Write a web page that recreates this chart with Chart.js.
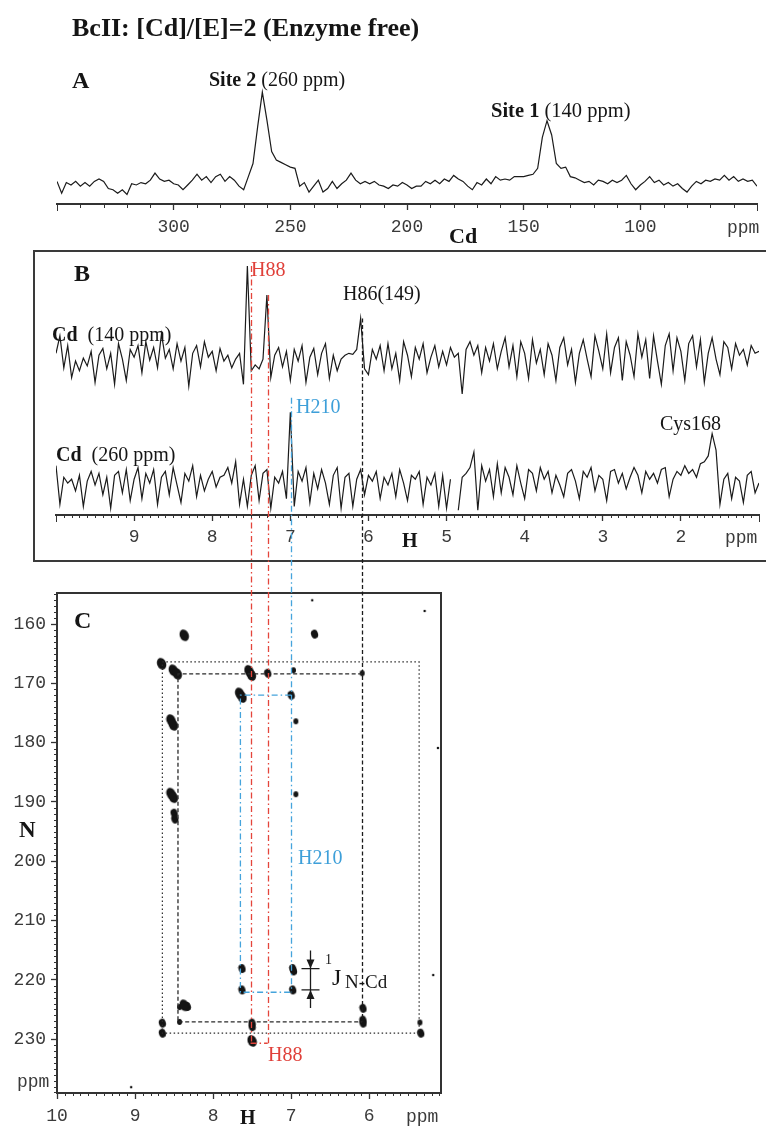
<!DOCTYPE html>
<html>
<head>
<meta charset="utf-8">
<title>BcII Cd NMR</title>
<script src="https://cdn.jsdelivr.net/npm/chart.js@4.4.1/dist/chart.umd.min.js"></script>
<style>
  html, body { margin: 0; padding: 0; background: #fff; }
  body { position: relative; width: 766px; height: 1126px; overflow: hidden; font-family: "Liberation Serif", "Times New Roman", serif; color: #151515; }
  canvas { position: absolute; left: 0; }
  .lbl { position: absolute; white-space: nowrap; line-height: 1; font-size: 20px; }
  .b { font-weight: bold; }
  .mono { font-family: "Liberation Mono", monospace; font-size: 18px; color: #3a3a3a; }
  .red { color: #e0403a; }
  .blue { color: #3d9fd9; }
  #boxB { position: absolute; left: 33px; top: 250px; width: 800px; height: 308px; border: 2px solid #3a3a3a; }
</style>
</head>
<body>
<div id="boxB"></div>
<canvas id="chartA" width="766" height="250" style="top:0"></canvas>
<canvas id="chartB" width="766" height="322" style="top:240px"></canvas>
<canvas id="chartC" width="766" height="886" style="top:240px"></canvas>

<div class="lbl b" style="left:72px;top:15px;font-size:26px">BcII: [Cd]/[E]=2 (Enzyme free)</div>
<div class="lbl b" style="left:72px;top:68px;font-size:24px">A</div>
<div class="lbl" style="left:209px;top:69px"><b>Site 2</b> (260 ppm)</div>
<div class="lbl" style="left:491px;top:100px;font-size:20.5px"><b>Site 1</b> (140 ppm)</div>
<div class="lbl b" style="left:449px;top:225px;font-size:22px">Cd</div>
<div class="lbl mono" style="left:727px;top:219px">ppm</div>

<div class="lbl b" style="left:74px;top:261px;font-size:24px">B</div>
<div class="lbl red" style="left:251px;top:259px">H88</div>
<div class="lbl" style="left:343px;top:283px">H86(149)</div>
<div class="lbl" style="left:52px;top:324px"><b>Cd</b>&nbsp;&nbsp;(140 ppm)</div>
<div class="lbl blue" style="left:296px;top:396px">H210</div>
<div class="lbl" style="left:56px;top:444px"><b>Cd</b>&nbsp;&nbsp;(260 ppm)</div>
<div class="lbl" style="left:660px;top:413px">Cys168</div>
<div class="lbl b" style="left:402px;top:530px">H</div>
<div class="lbl mono" style="left:725px;top:529px">ppm</div>

<div class="lbl b" style="left:74px;top:608px;font-size:24px">C</div>
<div class="lbl b" style="left:19px;top:818px;font-size:23px">N</div>
<div class="lbl mono" style="left:17px;top:1073px">ppm</div>
<div class="lbl b" style="left:240px;top:1107px">H</div>
<div class="lbl mono" style="left:406px;top:1108px">ppm</div>
<div class="lbl blue" style="left:298px;top:847px">H210</div>
<div class="lbl red" style="left:268px;top:1044px">H88</div>
<div class="lbl" style="left:325px;top:953px;font-size:14px">1</div>
<div class="lbl" style="left:332px;top:965px;font-size:24px">J</div>
<div class="lbl" style="left:345px;top:972px;font-size:19px">N-Cd</div>

<script>
// ---- panel A: 113Cd spectrum, sampled every 2 ppm from 350 ppm ----
const cdPpmStart = 350, cdPpmStep = 2;
const cdSpectrum = [
  19, 9, 18, 16, 19, 15, 18, 15, 19, 21,
  19, 13, 12, 9, 12, 8, 17, 16, 18, 17,
  20, 26, 21, 19, 20, 17, 16, 12, 16, 20,
  25, 20, 23, 18, 23, 25, 19, 23, 20, 15,
  12, 23, 34, 65, 94, 70, 44, 37, 35, 33,
  31, 30, 15, 18, 10, 15, 20, 10, 13, 19,
  13, 17, 20, 26, 20, 17, 19, 17, 19, 16,
  15, 13, 16, 15, 18, 16, 13, 15, 15, 19,
  17, 20, 17, 21, 19, 24, 21, 19, 15, 12,
  18, 16, 21, 17, 23, 20, 21, 20, 23, 23,
  23, 24, 25, 30, 56, 70, 58, 34, 30, 31,
  23, 22, 20, 18, 19, 16, 20, 19, 17, 20,
  18, 20, 24, 17, 12, 16, 19, 23, 18, 20,
  16, 18, 15, 17, 13, 10, 15, 19, 17, 20,
  19, 21, 20, 24, 20, 23, 19, 21, 19, 20, 15
];
const cdTicks = [300, 250, 200, 150, 100];

// ---- panel B: 1H traces, sampled every 0.05 ppm from 10 ppm ----
const hPpmStart = 10, hPpmStep = 0.05;
const hTrace140 = [
  10, 28, -5, 18, -15, 2, -8, 5, -3, 12,
  -20, 8, 15, -6, 10, -22, 20, 4, -18, 14,
  6, 18, -10, 22, 3, 16, -5, 30, 5, 14,
  -6, 20, 2, 16, -24, 10, 18, -4, 22, 6,
  12, -8, 15, 2, 8, -5, 4, 10, -22,
  100,
  -8, -2, -6, 4,
  70,
  -15, 8, 16, -4, 12, -18, 14, 2, 18, -20, 6, 15, -12, 10, 20, -16, 8, -8, 4, 8, 10, 9,
  14, 46, -6,
  -12, 14, 4, 18, -8, 20, -6, 10, -18, 22, 8, -14, 16, 4, 20, -10, 6, 18, -4, 12, -2, 16, 6, 10,
  -32,
  14, 22, 8, 18, -10, 16, 2, 20, -6, 12,
  26, -4, 18, -14, 22, 10, -16, 24, 0, 14,
  -12, 20, 8, -18, 16, 26, -2, 14, -20, 10,
  24, 4, -14, 28, 12, -6, 30, -10, 16, 26,
  -18, 22, 8, -14, 30, 6, 24, -16, 28, 2,
  -22, 18, 30, -8, 26, 12, -18, 20, 28, -4,
  24, -20, 10, 26, 4, -12, 22, 16, -6, 20,
  8, 14, -2, 18, 10, 12
];
const hTrace260 = [
  22, -18, 10, 4, 8, -4, 12, -20, 6, 16,
  2, 14, -8, 10, -22, 12, 16, -6, 18, -14,
  8, 20, -12, 14, 4, 18, -18, 10, 16, -8,
  20, 2, -16, 14, 6, 22, -10, 12, -4, 8,
  16, 0, 10, 12, 20, 4, 26, -18, 8, -20,
  12, 22, -14, 14, 18, -22, 10, 4, 16, -12,
  77,
  -20, 16, 6, 20, -16, 14, -2, 18, 4, -18, 12, 20, -22, 10, 14, -20, 8,
  18,
  -8, 12, 6, 16, -12, 10, 2, 14, -10, 18, 4, -14, 12, 8, 16, -18, 10, 2, 14, -20, 12, -22, 8,
  null,
  -24, 10, 14, 20,
  36,
  -24, 22, 6, 18, -10, 24, -6, 20, 10, -8,
  22, 4, -12, 18, 14, -4, 20, 8, 16, -6,
  12, 2, -10, 14, 18, 6, -12, 16, 10, 20,
  -4, 12, 8, -14, 16, 18, 4, 14, -2, 10,
  20, 12, -6, 16, 8, 14, 4, 18, 20, -10,
  8, 16, 12, 22, 14, 18, 10, 24,
  26, 32, 55, 38, -18,
  8, 14, -12, 10, 6, -16, 12, 16, -6, 4
];
const hTicks = [9, 8, 7, 6, 5, 4, 3, 2];

// ---- panel C: 1H-15N correlation map ----
const cTicksH = [10, 9, 8, 7, 6];
const cTicksN = [160, 170, 180, 190, 200, 210, 220, 230];

// cross peaks [H ppm, N ppm]
const spotsBig = [
  [8.37, 161.9], [8.66, 166.7], [8.51, 167.8], [8.46, 168.4],
  [7.54, 167.9], [7.51, 168.6], [7.66, 171.7], [7.63, 172.3],
  [8.54, 176.2], [8.51, 177.0], [8.54, 188.6], [8.51, 189.2],
  [8.37, 224.3], [7.50, 230.3]
];
const spotsMid = [
  [6.70, 161.7], [7.30, 168.3], [7.00, 172.0], [8.50, 191.9], [8.49, 192.9],
  [7.63, 218.1], [6.98, 218.1], [6.97, 218.5], [7.63, 221.7], [6.98, 221.7],
  [8.33, 224.5], [6.08, 224.8], [8.65, 227.3], [8.65, 229.0],
  [7.50, 227.3], [7.50, 227.9], [6.08, 226.8], [6.08, 227.3], [5.34, 229.0]
];
const spotsSmall = [
  [6.97, 167.8], [6.09, 168.3], [6.94, 176.4], [6.94, 188.7],
  [8.43, 224.6], [8.43, 227.1], [5.35, 227.2]
];
const specks = [[6.73, 156.0], [5.29, 157.8], [5.12, 180.9], [5.18, 219.2], [9.05, 238.1]];

// connectivity paths inside C [H ppm, N ppm]
const pathDotted = [[8.65, 166.4], [5.36, 166.4], [5.36, 229.0], [8.65, 229.0], [8.65, 166.4]];
const pathDashed = [[6.09, 168.4], [8.45, 168.4], [8.45, 227.1], [6.09, 227.1]];
const pathBlue = [[7.00, 172.0], [7.65, 172.0], [7.65, 222.1], [7.00, 222.1]];
const pathRed = [[7.52, 230.7], [7.30, 230.7]];

// guides from the B peaks down into C
const guideH = [7.52, 7.30, 6.09, 7.00];
const guideTrace = ['y1', 'y1', 'y1', 'y2'];
const guideFrom = [100, 70, 46, 92];
const guideToN = [230.7, 230.7, 227.1, 222.1];

// 1J(N-Cd) splitting marker
const jH = 6.76;
const jN = [218.1, 221.7];

const INK = '#1b1b1b', AXIS = '#333', RED = '#e4453b', BLUE = '#45a4dc';
const DASH_DOT = [6, 3, 1.5, 3];

function series(start, step, values) {
  return values.map((v, i) => ({ x: +(start - i * step).toFixed(3), y: v }));
}

function xAxis(min, max, ticks, height, pad) {
  return {
    type: 'linear', reverse: true, min, max,
    afterBuildTicks: s => { s.ticks = ticks.map(v => ({ value: v })); },
    afterFit: s => { s.height = height; },
    border: { color: AXIS, width: 2 },
    grid: { drawOnChartArea: false, tickLength: 6, tickColor: AXIS, tickWidth: 1.3 },
    ticks: { autoSkip: false, maxRotation: 0, padding: pad, color: '#3a3a3a',
             font: { family: 'Liberation Mono', size: 18 } }
  };
}

// minor ticks between the labelled ones
function minorTicks(id, axisId, from, to, step, len, skip, endLen) {
  return {
    id,
    afterDraw(chart) {
      const s = chart.scales[axisId];
      const ctx = chart.ctx;
      const n = Math.round((to - from) / step);
      ctx.save();
      ctx.strokeStyle = AXIS;
      ctx.lineWidth = 1;
      ctx.beginPath();
      for (let k = 0; k <= n; k++) {
        const v = from + k * step;
        if (skip.some(t => Math.abs(t - v) < step / 10)) continue;
        const p = Math.round(s.getPixelForValue(v)) + 0.5;
        const l = (k === 0 || k === n) ? endLen : len;
        if (s.isHorizontal()) { ctx.moveTo(p, s.top); ctx.lineTo(p, s.top + l); }
        else { ctx.moveTo(s.right, p); ctx.lineTo(s.right - l, p); }
      }
      ctx.stroke();
      ctx.restore();
    }
  };
}

const baseOpts = {
  responsive: false,
  animation: false,
  events: [],
  plugins: { legend: { display: false }, tooltip: { enabled: false } }
};

// panel A
new Chart(document.getElementById('chartA'), {
  type: 'line',
  data: { datasets: [{ data: series(cdPpmStart, cdPpmStep, cdSpectrum), borderColor: INK,
                       borderWidth: 1.2, pointRadius: 0, tension: 0 }] },
  options: {
    ...baseOpts,
    layout: { padding: { left: 57, right: 9, top: 85, bottom: 0 } },
    scales: { x: xAxis(50, 350, cdTicks, 46, 6), y: { display: false, min: 0, max: 100 } }
  },
  plugins: [minorTicks('minA', 'x', 50, 350, 10, 4, cdTicks, 7)]
});

// panel B
const bChart = new Chart(document.getElementById('chartB'), {
  type: 'line',
  data: { datasets: [
    { data: series(hPpmStart, hPpmStep, hTrace140), yAxisID: 'y1', borderColor: INK,
      borderWidth: 1.2, pointRadius: 0, tension: 0 },
    { data: series(hPpmStart, hPpmStep, hTrace260), yAxisID: 'y2', borderColor: INK,
      borderWidth: 1.2, pointRadius: 0, tension: 0 }
  ] },
  options: {
    ...baseOpts,
    layout: { padding: { left: 56, right: 7, top: 10, bottom: 0 } },
    scales: {
      x: xAxis(1, 10, hTicks, 47, 5),
      y1: { display: false, min: -156.7, max: 116.5 },
      y2: { display: false, min: -28.9, max: 244.3 }
    }
  },
  plugins: [minorTicks('minB', 'x', 1, 10, 0.1, 3, hTicks, 7)]
});

// elliptical contour spots
function blob(w, h, tilt) {
  const c = document.createElement('canvas');
  c.width = w + 2;
  c.height = h + 2;
  const g = c.getContext('2d');
  g.fillStyle = '#141414';
  g.beginPath();
  g.ellipse(c.width / 2, c.height / 2, w / 2, h / 2, tilt, 0, Math.PI * 2);
  g.fill();
  return c;
}

const cExtras = {
  id: 'cExtras',
  afterDatasetsDraw(chart) {
    const { ctx, chartArea: a, scales: { x, y } } = chart;
    ctx.save();
    // box: top and right edges
    ctx.strokeStyle = AXIS;
    ctx.lineWidth = 2;
    ctx.beginPath();
    ctx.moveTo(a.left, a.top);
    ctx.lineTo(a.right, a.top);
    ctx.lineTo(a.right, a.bottom);
    ctx.stroke();

    // guides from the 1H peaks in B (both canvases share the same offset)
    const colors = [RED, RED, INK, BLUE];
    const dashes = [DASH_DOT, DASH_DOT, [4, 2.5], DASH_DOT];
    guideH.forEach((h, k) => {
      const px = Math.round(x.getPixelForValue(h)) + 0.5;
      const top = bChart.scales[guideTrace[k]].getPixelForValue(guideFrom[k]);
      const bottom = y.getPixelForValue(guideToN[k]);
      ctx.strokeStyle = colors[k];
      ctx.lineWidth = 1.3;
      ctx.setLineDash(dashes[k]);
      ctx.beginPath();
      ctx.moveTo(px, top);
      ctx.lineTo(px, bottom);
      ctx.stroke();
    });

    // 1J marker
    const jx = Math.round(x.getPixelForValue(jH)) + 0.5;
    const y1 = y.getPixelForValue(jN[0]), y2 = y.getPixelForValue(jN[1]);
    ctx.setLineDash([]);
    ctx.strokeStyle = INK;
    ctx.fillStyle = INK;
    ctx.lineWidth = 1.3;
    ctx.beginPath();
    ctx.moveTo(jx, y1 - 18); ctx.lineTo(jx, y2 + 18);
    ctx.moveTo(jx - 9, y1); ctx.lineTo(jx + 9, y1);
    ctx.moveTo(jx - 9, y2); ctx.lineTo(jx + 9, y2);
    ctx.stroke();
    ctx.beginPath();
    ctx.moveTo(jx, y1); ctx.lineTo(jx - 4, y1 - 9); ctx.lineTo(jx + 4, y1 - 9); ctx.closePath();
    ctx.moveTo(jx, y2); ctx.lineTo(jx - 4, y2 + 9); ctx.lineTo(jx + 4, y2 + 9); ctx.closePath();
    ctx.fill();
    ctx.restore();
  }
};

const pathStyle = (data, color, dash, width) => ({
  data, showLine: true, borderColor: color, borderDash: dash, borderWidth: width,
  pointRadius: 0, fill: false, tension: 0
});
const spotStyle = (data, img) => ({ data, pointStyle: img, pointRadius: 4, showLine: false });

// panel C
new Chart(document.getElementById('chartC'), {
  type: 'scatter',
  data: { datasets: [
    pathStyle(pathDotted, '#2a2a2a', [1.5, 2.5], 1.2),
    pathStyle(pathDashed, '#2a2a2a', [4, 2.5], 1.3),
    pathStyle(pathBlue, BLUE, DASH_DOT, 1.3),
    pathStyle(pathRed, RED, DASH_DOT, 1.3),
    spotStyle(spotsBig, blob(9, 12, -0.35)),
    spotStyle(spotsMid, blob(7, 9, -0.3)),
    spotStyle(spotsSmall, blob(5, 6, 0)),
    spotStyle(specks, blob(2.5, 2.5, 0))
  ] },
  options: {
    ...baseOpts,
    layout: { padding: { left: 0, right: 325, top: 353, bottom: 0 } },
    scales: {
      x: xAxis(5.08, 10, cTicksH, 33, 6),
      y: {
        type: 'linear', reverse: true, min: 154.77, max: 239.09, position: 'left',
        afterBuildTicks: s => { s.ticks = cTicksN.map(v => ({ value: v })); },
        afterFit: s => { s.width = 57; },
        border: { color: AXIS, width: 2 },
        grid: { drawOnChartArea: false, tickLength: 6, tickColor: AXIS, tickWidth: 1.3 },
        ticks: { autoSkip: false, padding: 5, color: '#3a3a3a',
                 font: { family: 'Liberation Mono', size: 18 } }
      }
    }
  },
  plugins: [
    minorTicks('minCx', 'x', 5.1, 10, 0.1, 3, cTicksH, 3),
    minorTicks('minCy', 'y', 155, 239, 1, 3, cTicksN, 3),
    cExtras
  ]
});
</script>
</body>
</html>
